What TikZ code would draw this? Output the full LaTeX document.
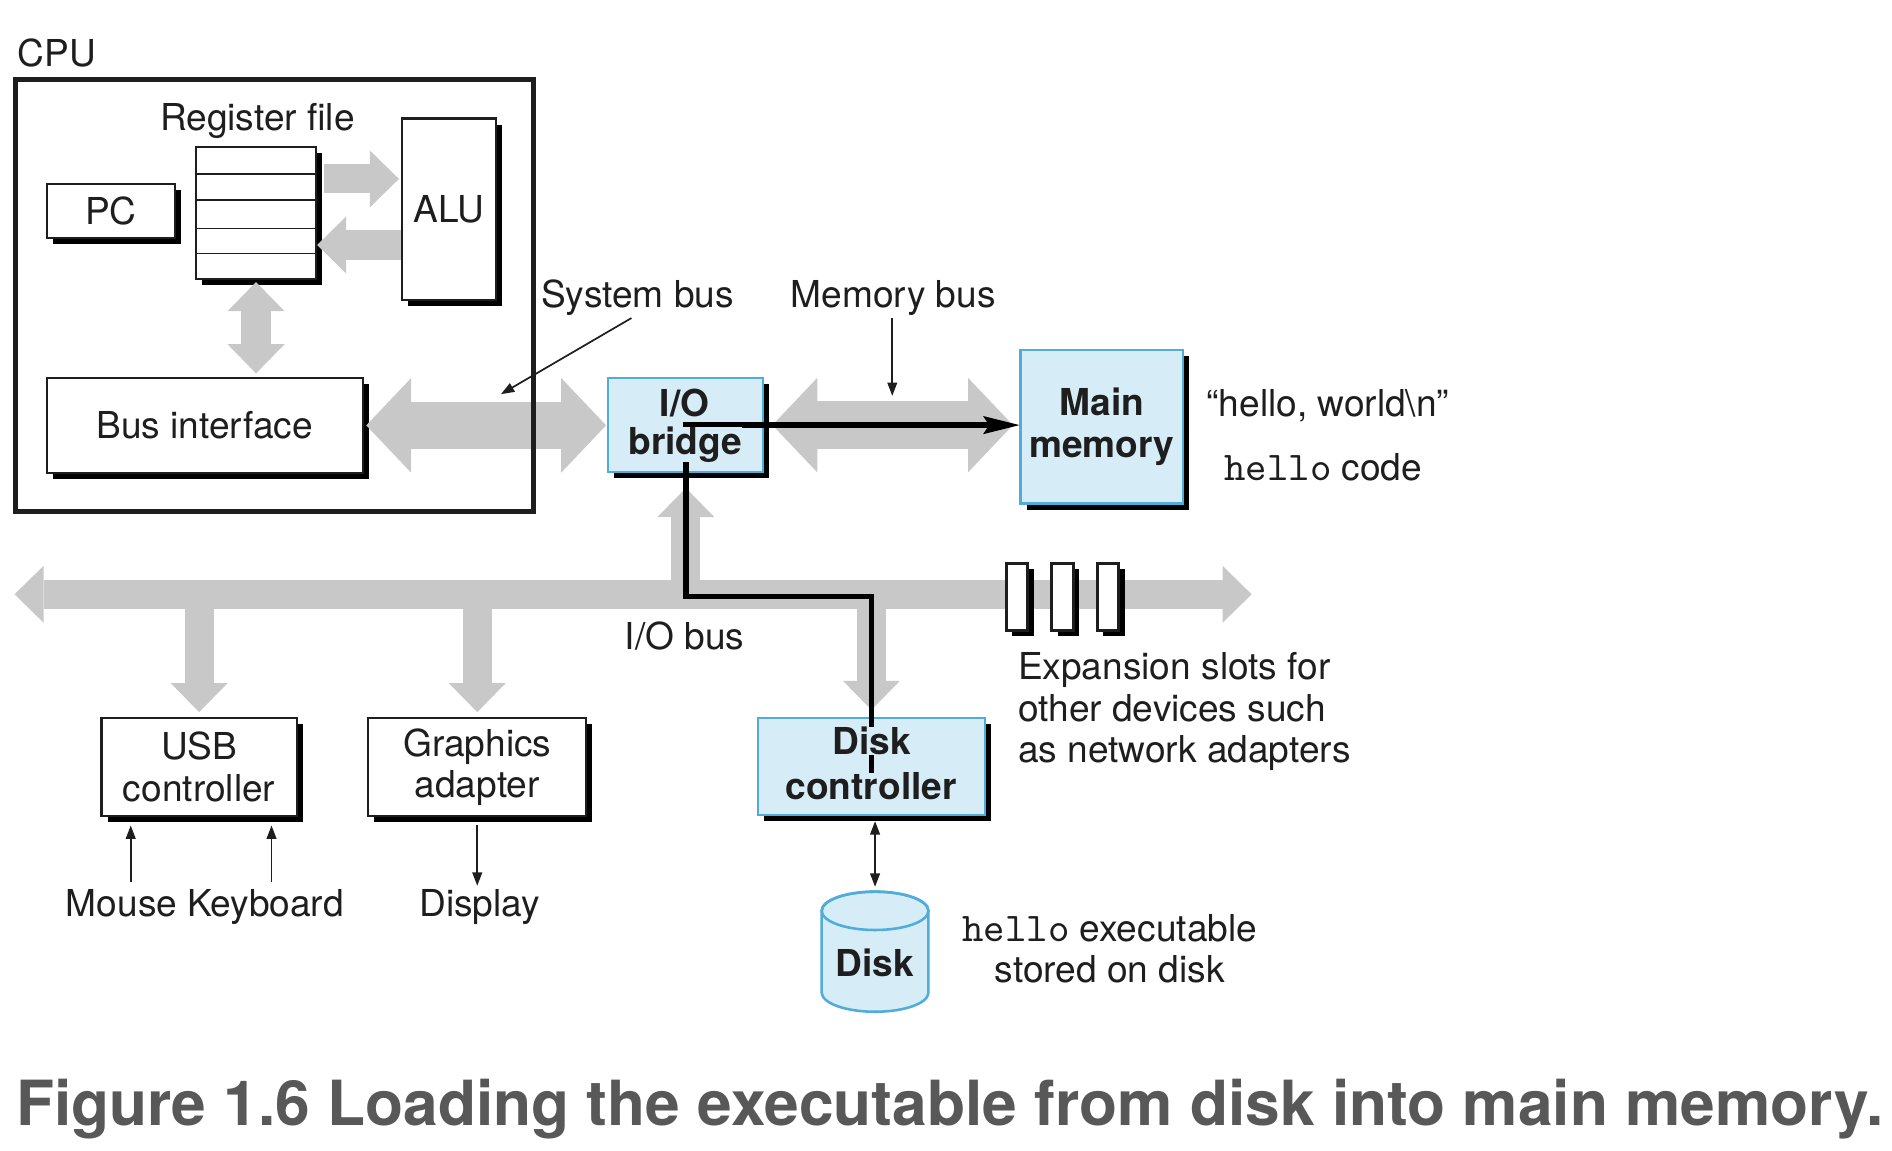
\documentclass[tikz,border=0pt]{standalone}
\usepackage{fontspec}
\setmainfont{TeX Gyre Heros}
\setmonofont[Scale=1.1]{Latin Modern Mono}
\usepackage{xcolor}
\usetikzlibrary{arrows.meta, shadows}

\definecolor{busgray}{RGB}{200,200,200}
\definecolor{iofill}{RGB}{214,237,248}
\definecolor{ioedge}{RGB}{80,172,218}
\definecolor{capgray}{RGB}{88,88,88}
\definecolor{ink}{RGB}{30,30,30}
\newcommand{\lblfont}{\fontsize{8.7pt}{9.7pt}\selectfont}

\tikzset{
  box/.style = {draw=ink, line width=0.5pt, fill=white, inner sep=0pt,
    font=\lblfont, text=ink, align=center,
    drop shadow={shadow xshift=0.05cm, shadow yshift=-0.05cm, fill=black, opacity=1}},
  iobox/.style = {box, draw=ioedge, fill=iofill, font=\lblfont\bfseries},
  slot/.style = {box, line width=0.7pt, minimum width=0.18cm, minimum height=0.55cm},
  lbl/.style = {font=\lblfont, text=ink, inner sep=0pt},
  boldlbl/.style = {lbl, font=\lblfont\bfseries},
  bus/.style = {busgray, line width=0.24cm,
    >={Triangle[length=0.24cm, width=0.47cm, line width=0pt]}},
  widebus/.style = {busgray, line width=0.39cm,
    >={Triangle[length=0.37cm, width=0.78cm, line width=0pt]}},
  pointer/.style = {ink, line width=0.4pt,
    >={Triangle[length=0.11cm, width=0.08cm]}},
  datapath/.style = {black, line width=0.045cm,
    >={Stealth[length=0.3cm, width=0.15cm, inset=0.05cm, line width=0pt]}}
}

\begin{document}
\begin{tikzpicture}
\fill[white] (0,0) rectangle (15.6,-9.482);
\useasboundingbox (0,0) rectangle (15.6,-9.482);

% CPU parts
\node[box, minimum width=1.06cm, minimum height=0.45cm] (pc) at (0.915,-1.739) {PC};
\node[box, minimum width=0.99cm, minimum height=1.088cm] (reg_file) at (2.111,-1.753) {};
\node[box, minimum width=0.78cm, minimum height=1.5cm] (alu) at (3.703,-1.727) {ALU};
\node[box, minimum width=2.606cm, minimum height=0.78cm] (bus_if) at (1.688,-3.507) {Bus interface};

% bridge, memory, controllers
\node[iobox, minimum width=1.278cm, minimum height=0.77cm] (io_bridge) at (5.655,-3.505) {};
\node[iobox, minimum width=1.34cm, minimum height=1.263cm] (main_mem) at (9.084,-3.52) {Main\\memory};
\node[box, minimum width=1.61cm, minimum height=0.807cm] (usb_ctl) at (1.642,-6.324) {USB\\controller};
\node[box, minimum width=1.8cm, minimum height=0.807cm] (gfx) at (3.935,-6.324) {Graphics\\adapter};
\node[iobox, minimum width=1.866cm, minimum height=0.80cm] (disk_ctl) at (7.185,-6.322) {};

\draw[ink, line width=0.4pt] (reg_file.west |- 0,-1.436) -- (reg_file.east |- 0,-1.436);
\draw[ink, line width=0.4pt] (reg_file.west |- 0,-1.647) -- (reg_file.east |- 0,-1.647);
\draw[ink, line width=0.4pt] (reg_file.west |- 0,-1.884) -- (reg_file.east |- 0,-1.884);
\draw[ink, line width=0.4pt] (reg_file.west |- 0,-2.089) -- (reg_file.east |- 0,-2.089);

% buses
\draw[bus, ->, shorten <=0.06cm, shorten >=0.015cm] (reg_file.east |- 0,-1.475) -- (alu.west |- 0,-1.475);
\draw[bus, ->] (alu.west |- 0,-2.02) -- (reg_file.east |- 0,-2.02);
\draw[bus, <->, shorten <=0.02cm, shorten >=0.03cm] (reg_file.south) -- (reg_file.south |- bus_if.north);
\draw[widebus, <->, shorten <=0.02cm, shorten >=0.01cm] (bus_if.east) -- (bus_if.east -| io_bridge.west);
\draw[widebus, <->, shorten <=0.066cm, shorten >=0.054cm] (io_bridge.east) -- (io_bridge.east -| main_mem.west);

\coordinate (io_bus_w) at (0.12,-4.90);
\coordinate (io_bus_e) at (10.32,-4.90);
\draw[bus, <->] (io_bus_w) -- (io_bus_e);
\draw[bus, ->, shorten >=0.125cm] (io_bridge.south |- io_bus_w) -- (io_bridge.south);
\draw[bus, ->, shorten >=0.04cm] (usb_ctl.north |- io_bus_w) -- (usb_ctl.north);
\draw[bus, ->, shorten >=0.04cm] (gfx.north |- io_bus_w) -- (gfx.north);
\draw[bus, ->, shorten >=0.06cm] (disk_ctl.north |- io_bus_w) -- (disk_ctl.north);

\draw[ink, line width=1.1pt] (0.126,-0.653) rectangle (4.396,-4.219);
\node[lbl, anchor=base west] (cpu_l) at (0.14,-0.552) {CPU};

% expansion slots
\node[slot] (slot_a) at (8.385,-4.92) {};
\node[slot] (slot_b) at (8.76,-4.92) {};
\node[slot] (slot_c) at (9.135,-4.92) {};

% disk
\coordinate (disk_top) at (7.215,-7.352);
\filldraw[fill=iofill, draw=ioedge, line width=0.6pt] (6.775,-7.51) -- (6.775,-8.184)
  arc[start angle=180, end angle=360, x radius=0.44cm, y radius=0.158cm] -- (7.655,-7.51)
  arc[start angle=0, end angle=180, x radius=0.44cm, y radius=0.158cm] -- cycle;
\draw[ioedge, line width=0.6pt] (7.215,-7.51) ellipse[x radius=0.44cm, y radius=0.158cm];
\node[boldlbl, anchor=base] (disk) at (7.215,-8.053) {Disk};

% path of the executable
\draw[datapath, ->] ([yshift=-0.1cm]disk_ctl.center) -- (disk_ctl.center |- 0,-4.92)
  -| (io_bridge.center) -- (io_bridge.center -| main_mem.west);

\node[boldlbl, fill=iofill, anchor=base] (io_bridge_l1) at (5.645,-3.436) {I/O};
\node[boldlbl, fill=iofill, anchor=base] (io_bridge_l2) at (5.65,-3.745) {bridge};
\node[boldlbl, fill=iofill, anchor=base] (disk_ctl_l1) at (7.187,-6.225) {Disk};
\node[boldlbl, fill=iofill, anchor=base] (disk_ctl_l2) at (7.183,-6.596) {controller};

% labels
\node[lbl, anchor=base] (reg_file_l) at (2.122,-1.073) {Register file};
\node[lbl, anchor=base] (sys_bus) at (5.256,-2.534) {System bus};
\node[lbl, anchor=base] (mem_bus) at (7.365,-2.534) {Memory bus};
\coordinate (sys_bus_tip) at (4.13,-3.25);
\coordinate (mem_bus_tip) at (7.357,-3.264);
\draw[pointer, ->] ([xshift=-0.05cm, yshift=-0.015cm]sys_bus.south) -- (sys_bus_tip);
\draw[pointer, ->] ([yshift=-0.015cm]mem_bus.south -| mem_bus_tip) -- (mem_bus_tip);

\node[lbl, anchor=base west] (hello_str) at (9.94,-3.432) {``hello, world\textbackslash n''};
\node[lbl, anchor=base west] (hello_code) at (10.088,-3.961) {\texttt{hello} code};
\node[lbl, anchor=base] (io_bus) at (5.645,-5.355) {I/O bus};
\node[lbl, anchor=north west, align=left] (exp_slots) at (8.387,-5.373) {Expansion slots for\\other devices such\\as network adapters};
\node[lbl, anchor=north, align=center] (hello_exe) at (9.15,-7.53) {\texttt{hello} executable\\stored on disk};

\node[lbl, anchor=base west] (mouse) at (0.537,-7.553) {Mouse};
\node[lbl, anchor=base west] (keyboard) at (1.535,-7.553) {Keyboard};
\node[lbl, anchor=base] (display) at (3.955,-7.553) {Display};
\draw[pointer, ->, shorten <=0.05cm, shorten >=0.07cm] ([xshift=0.075cm]mouse.north) -- ([xshift=0.075cm]mouse.north |- usb_ctl.south);
\draw[pointer, ->, shorten <=0.05cm, shorten >=0.07cm] ([xshift=0.05cm]keyboard.north) -- ([xshift=0.05cm]keyboard.north |- usb_ctl.south);
\draw[pointer, ->, shorten <=0.07cm, shorten >=0.02cm] (gfx.south) -- (gfx.south |- display.north);
\draw[pointer, <->, shorten <=0.04cm, shorten >=0.04cm] (disk_ctl.south -| disk_top) -- (disk_top);

\node[anchor=base west, inner sep=0pt, font=\fontsize{14.6pt}{17pt}\selectfont\bfseries, text=capgray] (caption) at (0.125,-9.276) {Figure 1.6 Loading the executable from disk into main memory.};
\end{tikzpicture}
\end{document}
